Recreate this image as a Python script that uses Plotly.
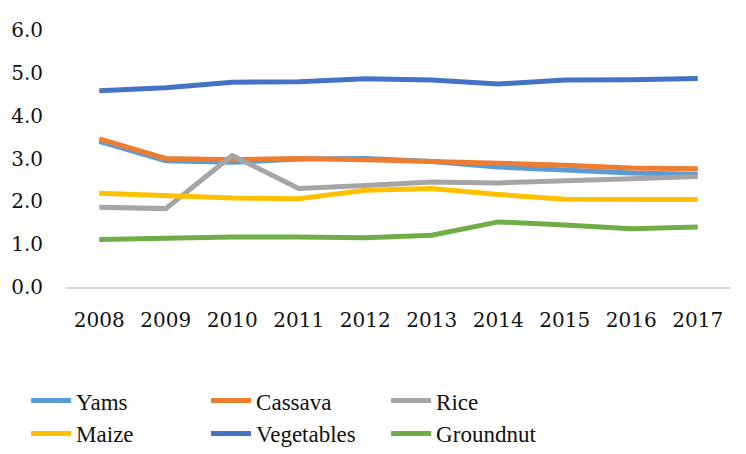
import plotly.graph_objects as go

years = ["2008", "2009", "2010", "2011", "2012", "2013", "2014", "2015", "2016", "2017"]
yams = [3.40, 2.95, 2.91, 2.99, 3.00, 2.93, 2.80, 2.73, 2.66, 2.63]
cassava = [3.46, 3.00, 2.97, 3.00, 2.97, 2.94, 2.89, 2.84, 2.78, 2.76]
rice = [1.86, 1.83, 3.07, 2.30, 2.37, 2.45, 2.43, 2.49, 2.53, 2.58]
maize = [2.19, 2.14, 2.08, 2.06, 2.26, 2.30, 2.16, 2.05, 2.05, 2.04]
vegetables = [4.58, 4.65, 4.78, 4.79, 4.86, 4.83, 4.74, 4.83, 4.84, 4.87]
groundnut = [1.11, 1.14, 1.17, 1.17, 1.15, 1.21, 1.52, 1.45, 1.36, 1.40]

series = [
    ("Yams", yams, "#5B9BD5"),
    ("Cassava", cassava, "#ED7D31"),
    ("Rice", rice, "#A5A5A5"),
    ("Maize", maize, "#FFC000"),
    ("Vegetables", vegetables, "#4472C4"),
    ("Groundnut", groundnut, "#70AD47"),
]

SERIF = "DejaVu Serif, Liberation Serif, Noto Serif, serif"
LSERIF = "Liberation Serif, Times New Roman, serif"

fig = go.Figure()
for name, vals, color in series:
    fig.add_trace(go.Scatter(
        x=years, y=vals, name=name, mode="lines",
        line=dict(color=color, width=5, shape="linear"),
    ))

fig.update_layout(
    width=746, height=454,
    margin=dict(l=66, r=15, t=30, b=167, autoexpand=False),
    paper_bgcolor="white", plot_bgcolor="white",
    font=dict(family=SERIF, size=20, color="#222222"),
    showlegend=True,
    legend=dict(
        orientation="h", xref="container", yref="container",
        x=0.035, xanchor="left", y=0.165, yanchor="top",
        entrywidth=125, entrywidthmode="pixels", itemwidth=40,
        font=dict(family=LSERIF, size=23, color="#111111"),
        tracegroupgap=0, bgcolor="rgba(0,0,0,0)",
    ),
)
fig.update_xaxes(
    type="category", range=[-0.5, 9.5], showgrid=False, zeroline=False,
    showline=True, linecolor="#D9D9D9", linewidth=1.5, ticks="",
    ticklabelstandoff=14, tickfont=dict(family=SERIF, size=20, color="#111111"),
)
fig.update_yaxes(
    range=[0, 6], tickvals=[0, 1, 2, 3, 4, 5, 6], tickformat=".1f",
    showgrid=False, zeroline=False, showline=False, ticks="",
    ticklabelstandoff=22, tickfont=dict(family=SERIF, size=20, color="#111111"),
)

fig.write_html("out.html")
